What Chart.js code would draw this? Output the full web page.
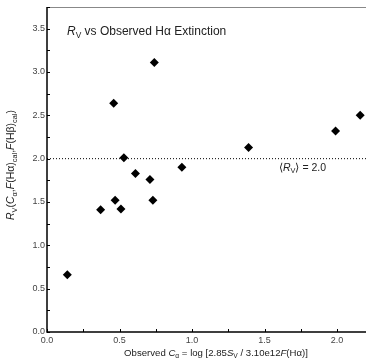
<!DOCTYPE html>
<html>
<head>
<meta charset="utf-8">
<script src="https://cdn.jsdelivr.net/npm/chart.js@4/dist/chart.umd.min.js"></script>
<style>
  html, body { margin: 0; padding: 0; background: #fff; }
  #wrap { width: 366px; height: 360px; }
</style>
</head>
<body>
<div id="wrap"><canvas id="rvChart" width="366" height="360"></canvas></div>
<script>
// observed C_alpha and R_V
const cAlpha = [0.14, 0.37, 0.47, 0.51, 0.71, 0.73, 0.46, 0.53, 0.61, 0.74, 0.93, 1.39, 1.99, 2.16];
const rV = [0.66, 1.41, 1.52, 1.42, 1.76, 1.52, 2.64, 2.01, 1.83, 3.11, 1.90, 2.13, 2.32, 2.50];
const meanRv = 2.0;
const xRange = [0, 2.2];
const yRange = [0, 3.75];
const xTickLabels = [0, 0.5, 1.0, 1.5, 2.0];
const yTickLabels = [0, 0.5, 1.0, 1.5, 2.0, 2.5, 3.0, 3.5];

const font = '"Liberation Sans", Arial, sans-serif';

// draws a run of [text, style] pieces; style: 'n' normal, 'i' italic, 's' subscript, 'si' italic subscript
function drawRich(ctx, parts, x, y, size, align) {
    const setFont = st => {
        const sz = st[0] === 's' ? size * 0.7 : size;
        const it = st.indexOf('i') >= 0 ? 'italic ' : '';
        ctx.font = it + sz + 'px ' + font;
    };
    let total = 0;
    parts.forEach(p => { setFont(p[1]); total += ctx.measureText(p[0]).width; });
    let cx = align === 'center' ? x - total / 2 : x;
    ctx.textBaseline = 'alphabetic';
    ctx.textAlign = 'left';
    parts.forEach(p => {
        setFont(p[1]);
        const dy = p[1][0] === 's' ? size * 0.25 : 0;
        ctx.fillText(p[0], cx, y + dy);
        cx += ctx.measureText(p[0]).width;
    });
}

const extras = {
    id: 'extras',
    afterDraw(chart) {
        const ctx = chart.ctx;
        const a = chart.chartArea;
        const xs = chart.scales.x, ys = chart.scales.y;
        ctx.save();
        // top frame line
        ctx.strokeStyle = '#888';
        ctx.lineWidth = 1;
        ctx.beginPath();
        ctx.moveTo(a.left, a.top + 0.5);
        ctx.lineTo(a.right, a.top + 0.5);
        ctx.stroke();
        // axes
        ctx.strokeStyle = '#000';
        ctx.lineWidth = 1.5;
        ctx.beginPath();
        ctx.moveTo(a.left, a.top);
        ctx.lineTo(a.left, a.bottom);
        ctx.lineTo(a.right, a.bottom);
        ctx.stroke();
        // inward ticks
        ctx.lineWidth = 1;
        ctx.beginPath();
        xs.ticks.forEach(t => {
            const px = Math.round(xs.getPixelForValue(t.value)) + 0.5;
            ctx.moveTo(px, a.bottom);
            ctx.lineTo(px, a.bottom - 3);
        });
        ys.ticks.forEach(t => {
            const py = Math.round(ys.getPixelForValue(t.value)) + 0.5;
            ctx.moveTo(a.left, py);
            ctx.lineTo(a.left + 3, py);
        });
        ctx.stroke();

        ctx.fillStyle = '#222';
        // title
        drawRich(ctx, [['R', 'i'], ['V', 's'], [' vs Observed H\u03b1 Extinction', 'n']], 67, 35, 12, 'left');
        // mean label
        drawRich(ctx, [['\u27e8', 'n'], ['R', 'i'], ['V', 's'], ['\u27e9 = ' + meanRv.toFixed(1), 'n']],
            xs.getPixelForValue(1.6), ys.getPixelForValue(meanRv) + 12, 10.5, 'left');
        // x axis title
        drawRich(ctx, [['Observed ', 'n'], ['C', 'i'], ['\u03b1', 's'], [' = log [2.85', 'n'], ['S', 'i'], ['V', 's'],
            [' / 3.10e12', 'n'], ['F', 'i'], ['(H\u03b1)]', 'n']], 216, 356, 9.6, 'center');
        // y axis title
        ctx.translate(14, 165);
        ctx.rotate(-Math.PI / 2);
        drawRich(ctx, [['R', 'i'], ['V', 's'], ['(', 'n'], ['C', 'i'], ['\u03b1', 's'], [',', 'n'], ['F', 'i'],
            ['(H\u03b1)', 'n'], ['cal', 's'], [',', 'n'], ['F', 'i'], ['(H\u03b2)', 'n'], ['cal', 's'], [')', 'n']],
            0, 0, 10.5, 'center');
        ctx.restore();
    }
};

new Chart(document.getElementById('rvChart'), {
    type: 'scatter',
    data: {
        datasets: [{
            label: 'R_V',
            data: cAlpha.map((x, i) => ({ x: x, y: rV[i] })),
            pointStyle: 'rectRot',
            radius: 4.5,
            backgroundColor: '#000',
            borderColor: '#000',
            borderWidth: 0,
            clip: false
        }, {
            type: 'line',
            label: 'mean',
            data: [{ x: xRange[0], y: meanRv }, { x: xRange[1], y: meanRv }],
            borderColor: '#000',
            borderWidth: 1,
            borderDash: [1, 2],
            pointRadius: 0
        }]
    },
    plugins: [extras],
    options: {
        responsive: false,
        animation: false,
        layout: { autoPadding: false, padding: { top: 7, right: 0, left: 0, bottom: 0 } },
        plugins: { legend: { display: false }, tooltip: { enabled: false } },
        scales: {
            x: {
                type: 'linear',
                min: xRange[0],
                max: xRange[1],
                afterFit: s => { s.height = 28; s.paddingLeft = 0; s.paddingRight = 0; },
                border: { display: false },
                grid: { display: false, drawTicks: false, tickLength: 0 },
                ticks: {
                    stepSize: 0.25,
                    includeBounds: false,
                    autoSkip: false,
                    maxRotation: 0,
                    padding: 3,
                    color: '#444',
                    font: { family: font, size: 9 },
                    callback: v => xTickLabels.includes(v) ? v.toFixed(1) : ''
                }
            },
            y: {
                min: yRange[0],
                max: yRange[1],
                afterFit: s => { s.width = 47; s.paddingTop = 0; s.paddingBottom = 0; },
                border: { display: false },
                grid: { display: false, drawTicks: false, tickLength: 0 },
                ticks: {
                    stepSize: 0.25,
                    includeBounds: false,
                    autoSkip: false,
                    padding: 2,
                    color: '#444',
                    font: { family: font, size: 9 },
                    callback: v => yTickLabels.includes(v) ? v.toFixed(1) : ''
                }
            }
        }
    }
});
</script>
</body>
</html>
